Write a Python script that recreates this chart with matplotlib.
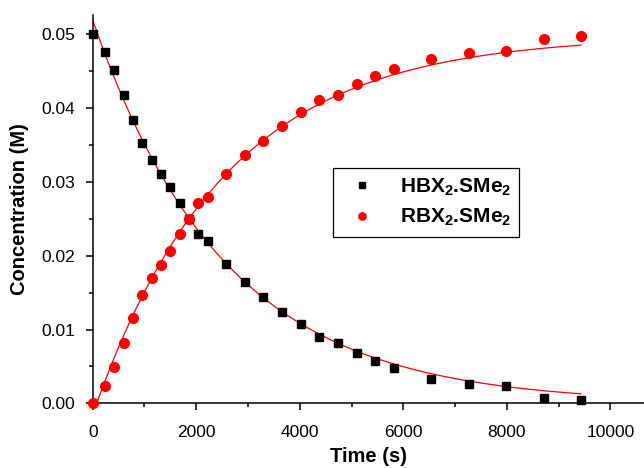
import numpy as np
import matplotlib
matplotlib.use("Agg")
import matplotlib.pyplot as plt
from matplotlib.ticker import MultipleLocator, FormatStrFormatter

plt.rcParams['font.family'] = ['Liberation Sans', 'DejaVu Sans']
plt.rcParams['mathtext.fontset'] = 'custom'
plt.rcParams['mathtext.rm'] = 'Liberation Sans:bold'
plt.rcParams['mathtext.it'] = 'Liberation Sans:bold'
plt.rcParams['mathtext.bf'] = 'Liberation Sans:bold'

# Data
time_s = [0, 232, 413, 606, 780, 960, 1148, 1322, 1502, 1683, 1863, 2037, 2218,
          2579, 2940, 3294, 3656, 4017, 4378, 4739, 5100, 5462, 5822, 6544,
          7266, 7988, 8710, 9433]
hbx = [0.0500, 0.0476, 0.0451, 0.0418, 0.0384, 0.0353, 0.0330, 0.0311, 0.0293,
       0.0271, 0.0250, 0.0230, 0.0220, 0.0189, 0.0164, 0.0144, 0.0124, 0.0107,
       0.0090, 0.0082, 0.0068, 0.0057, 0.0048, 0.0033, 0.0026, 0.0023, 0.0008,
       0.0004]
rbx = [0.0000, 0.0024, 0.0049, 0.0082, 0.0116, 0.0147, 0.0170, 0.0188, 0.0207,
       0.0230, 0.0250, 0.0271, 0.0280, 0.0311, 0.0336, 0.0356, 0.0376, 0.0394,
       0.0411, 0.0418, 0.0432, 0.0443, 0.0453, 0.0467, 0.0475, 0.0477, 0.0493,
       0.0498]

# First-order fit parameters
decay_A = 0.0519
decay_k = 3.91e-4
growth_B = 0.0498
growth_C = 0.0513
growth_k = 3.91e-4

labels = ['HBX$_2$.SMe$_2$', 'RBX$_2$.SMe$_2$']

fig = plt.figure(figsize=(6.44, 4.68), dpi=100)
ax = fig.add_axes([0.144, 0.138, 0.856, 0.830])

tfit = np.linspace(0, max(time_s), 400)
ax.plot(tfit, decay_A * np.exp(-decay_k * tfit), color='red', lw=0.9, zorder=2)
ax.plot(tfit, growth_B - growth_C * np.exp(-growth_k * tfit), color='red', lw=0.9, zorder=2)

ax.plot(time_s, hbx, 's', color='black', ms=6.2, ls='none', label=labels[0],
        clip_on=False, zorder=3)
ax.plot(time_s, rbx, 'o', color='red', ms=7, ls='none', label=labels[1],
        clip_on=False, zorder=3)

ax.set_xlim(0, 10650)
ax.set_ylim(0, 0.0526)

ax.spines['top'].set_visible(False)
ax.spines['right'].set_visible(False)
for s in ['left', 'bottom']:
    ax.spines[s].set_linewidth(1.1)

ax.xaxis.set_major_locator(MultipleLocator(2000))
ax.xaxis.set_minor_locator(MultipleLocator(1000))
ax.yaxis.set_major_locator(MultipleLocator(0.01))
ax.yaxis.set_minor_locator(MultipleLocator(0.005))
ax.yaxis.set_major_formatter(FormatStrFormatter('%.2f'))
ax.tick_params(which='major', direction='out', length=5, width=1.1, labelsize=12.5)
ax.tick_params(axis='y', which='major', pad=7.5)
ax.tick_params(axis='x', which='major', pad=10.5)
ax.tick_params(which='minor', direction='out', length=3, width=1.1)

ax.set_xlabel('Time (s)', fontsize=14.5, fontweight='bold', labelpad=5)
ax.set_ylabel('Concentration (M)', fontsize=14.5, fontweight='bold', labelpad=9)

leg = ax.legend(loc='upper left', bbox_to_anchor=(0.436, 0.606), borderaxespad=0,
                fancybox=False, frameon=True, edgecolor='black', framealpha=1,
                prop={'weight': 'bold', 'size': 15}, handlelength=2.0,
                handletextpad=0.8, borderpad=0.4, labelspacing=0.45, markerscale=0.75)
leg.get_frame().set_linewidth(0.9)

fig.savefig('out.png', dpi=100)
